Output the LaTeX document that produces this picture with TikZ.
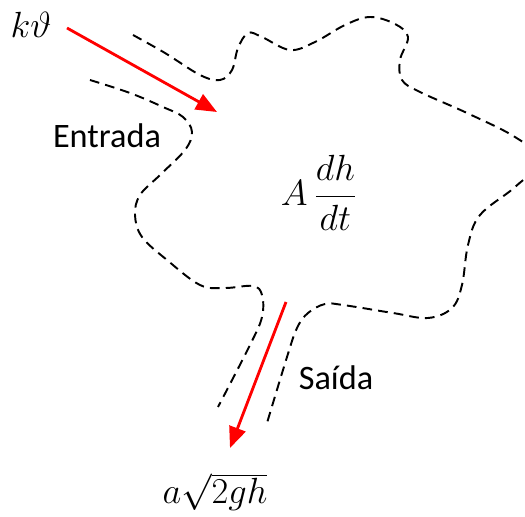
\documentclass[tikz,border=0pt]{standalone}
\usepackage{amsmath}
\usepackage{fontspec}
\setmainfont{Carlito}
\usetikzlibrary{arrows.meta}

\begin{document}
\begin{tikzpicture}[
    x=0.02cm, y=-0.02cm,
    wall/.style={
        draw=black,
        line width=1.1pt,
        dash pattern=on 5.5pt off 3.5pt
    },
    flow/.style={
        draw=red,
        line width=1.6pt,
        -{Triangle[length=0.42cm, width=0.34cm]}
    },
    lbl/.style={
        font=\fontsize{19.5}{22}\selectfont,
        inner sep=0pt
    },
    eq/.style={
        font=\fontsize{20}{24}\selectfont,
        inner sep=0pt
    }
]

% Frame
\useasboundingbox (0,0) rectangle (525,517);
\clip (0,0) rectangle (525,517);

% Tank walls
\draw[wall] plot[smooth, tension=0.6] coordinates {
    (133,35) (165,53) (200,75) (220,80) (232,70) (238,48) (248,33)
    (262,37) (290,50) (315,42) (345,25) (370,17) (395,24) (408,37)
    (400,60) (402,80) (420,92) (467,113) (515,137) (540,160) (515,187)
    (480,215) (468,245) (462,285) (452,308) (428,318) (393,313)
    (343,305) (325,304) (308,313) (297,328) (287,357) (267,423)
};
\draw[wall] plot[smooth, tension=0.6] coordinates {
    (90,80) (130,93) (163,107) (183,117) (192,132) (185,150) (160,175)
    (140,195) (135,215) (142,237) (167,260) (200,285) (225,288)
    (253,286) (262,295) (262,317) (250,345) (218,407)
};

% Labels
\node[eq] (kin) at (31,25) {$k\vartheta$};
\node[lbl] (entrada) at (107,136) {Entrada};
\node[eq] (rate) at (319,193) {$A\,\dfrac{dh}{dt}$};
\node[lbl] (saida) at (336,378) {Saída};
\node[eq] (aout) at (215,492) {$a\sqrt{2gh}$};

% Flow arrows
\coordinate (inA) at (67,28);
\coordinate (inB) at (217,112);
\coordinate (outA) at (286,302);
\coordinate (outB) at (230,448);
\draw[flow] (inA) -- (inB);
\draw[flow] (outA) -- (outB);

\end{tikzpicture}
\end{document}
